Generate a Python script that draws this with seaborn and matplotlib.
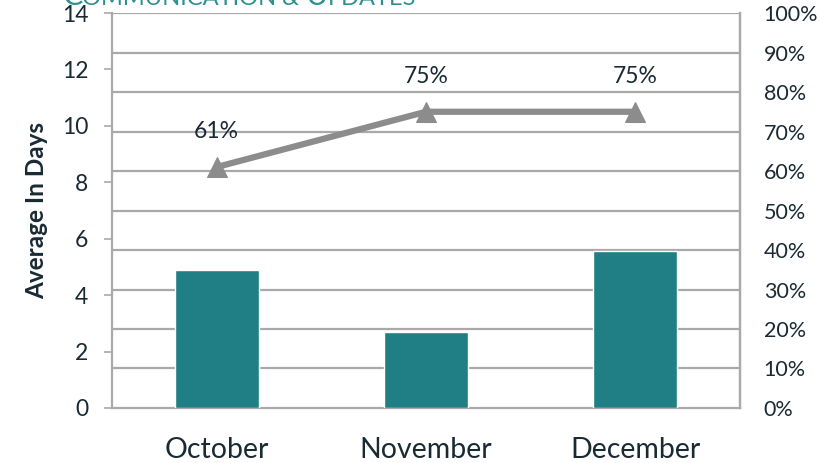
import matplotlib
matplotlib.use("Agg")
import matplotlib.pyplot as plt
import seaborn as sns
import numpy as np
import pandas as pd

months = ["October", "November", "December"]
avg_days = [4.88, 2.68, 5.57]
pct = [0.61, 0.75, 0.75]
pct_labels = ["61%", "75%", "75%"]
left_ticks = [0, 2, 4, 6, 8, 10, 12, 14]
right_ticks = [0, 0.1, 0.2, 0.3, 0.4, 0.5, 0.6, 0.7, 0.8, 0.9, 1.0]

sns.set_theme(style="white")
plt.rcParams['font.family'] = ['Lato', 'DejaVu Sans']

BAR = "#1f7f85"
LINE = "#8c8c8c"
GRID = "#a9a9a9"
TXT = "#1a2a33"
TEAL = "#2a9090"

fig = plt.figure(figsize=(8.27, 4.63), dpi=100)
ax = fig.add_axes([0.1354, 0.1188, 0.7594, 0.8531])

df = pd.DataFrame({"month": months, "days": avg_days, "pct": pct})
sns.barplot(data=df, x="month", y="days", color=BAR, width=0.4, saturation=1,
            ax=ax, zorder=3)
ax.set_xlim(-0.5, 2.5)
ax.set_ylim(0, 14)
for y in np.arange(1, 11) * 1.4:
    ax.axhline(y, color=GRID, lw=1.6, zorder=1)

ax.set_yticks(left_ticks)
ax.tick_params(axis="y", which="both", left=True, length=6, width=1.2, color=GRID,
               labelsize=16.5, labelcolor=TXT, pad=11)
ax.tick_params(axis="x", bottom=False, labelsize=20.5, labelcolor=TXT, pad=15)
ax.set_xlabel("")
ax.set_ylabel("Average In Days", fontsize=17.5, fontweight="bold", color=TXT, labelpad=10)
for s in ["left", "bottom", "right"]:
    ax.spines[s].set_color(GRID)
    ax.spines[s].set_linewidth(1.6)
ax.spines["top"].set_visible(False)

ax2 = ax.twinx()
sns.lineplot(data=df, x="month", y="pct", color=LINE, lw=4.5, marker="^",
             markersize=15, markeredgecolor=LINE, sort=False, ax=ax2, zorder=4)
ax2.set_ylim(0, 1)
ax2.set_xlim(-0.5, 2.5)
ax2.set_yticks(right_ticks)
ax2.set_yticklabels([f"{int(round(t*100))}%" for t in right_ticks])
ax2.tick_params(axis="y", right=False, length=0, labelsize=15.5, labelcolor=TXT, pad=17)
ax2.set_ylabel("")
for s in ["left", "bottom", "top"]:
    ax2.spines[s].set_visible(False)
ax2.spines["right"].set_color(GRID)
ax2.spines["right"].set_linewidth(1.6)

for i, (p, lab) in enumerate(zip(pct, pct_labels)):
    ax2.annotate(lab, (i, p), xytext=(0, 18), textcoords="offset points",
                 ha="center", va="bottom", fontsize=16.5, color=TXT)

# Title in small caps, partially cut off at the top
pieces = [("C", 22), ("OMMUNICATION & ", 17), ("U", 22), ("PDATES", 17)]
fig.canvas.draw()
r = fig.canvas.get_renderer()
x = 62 / 827
for txt, size in pieces:
    t = fig.text(x, 1.0 - 5 / 463, txt, fontsize=size, color=TEAL, ha="left",
                 va="baseline")
    bb = t.get_window_extent(renderer=r)
    x += bb.width / fig.bbox.width

fig.savefig("out.png", dpi=100)
